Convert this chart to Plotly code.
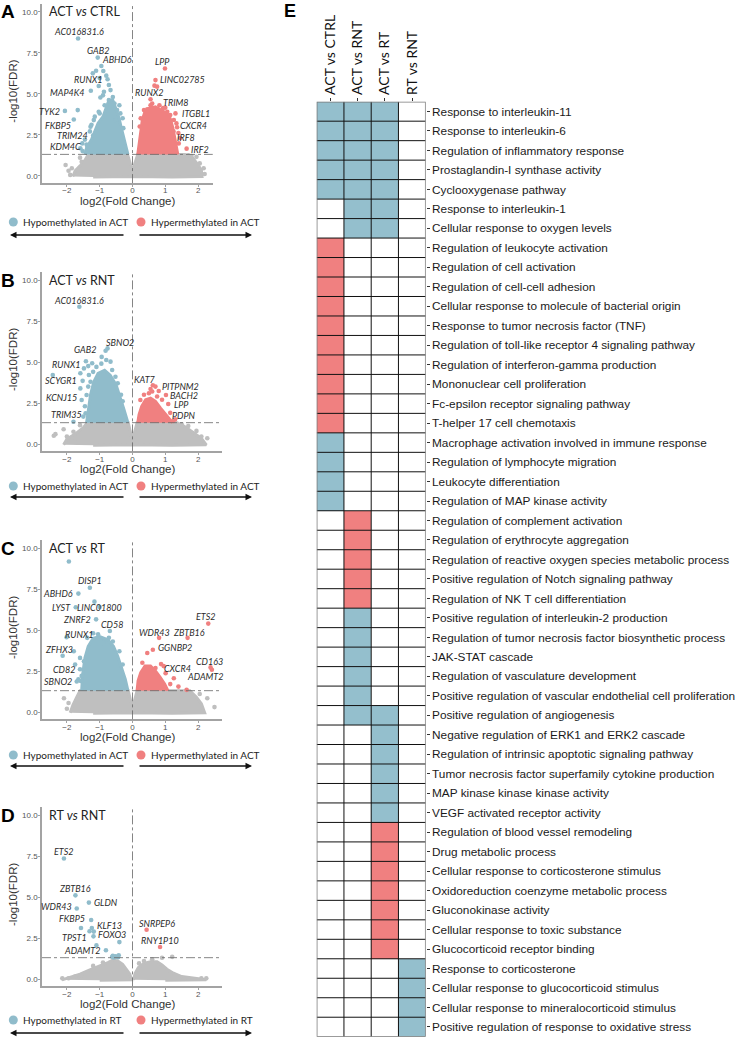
import plotly.graph_objects as go

W, H = 737, 1038
BLUE = '#90bccb'
RED = '#f08080'
GREY = '#bfbfbf'
CELL_BLUE = '#94bfcd'
CELL_RED = '#f08080'

# ================= DATA =================
# ---- Panel A : ACT vs CTRL ----
A_grey_poly_x = [-1.82, -1.75, -1.6, -1.45, -1.35, -0.15, -0.07, 0.0, 0.07, 0.16, 1.6, 1.85, 1.98, 2.1, 2.12, 1.2, 0.0, -1.2]
A_grey_poly_y = [-0.05, 0.3, 0.6, 0.95, 1.3, 1.3, 0.75, 0.25, 0.75, 1.3, 1.3, 1.05, 0.7, 0.35, -0.05, -0.08, -0.05, -0.08]
A_grey_x = [-2.04, 2.17, 2.05, -1.95, 1.95, -1.6, -1.9, 2.2, 1.8, -1.55, 1.7, -1.85]
A_grey_y = [0.65, 0.45, 0.75, 0.3, 1.15, 1.1, 0.05, 0.1, 1.2, 0.85, 1.25, 0.45]
A_blue_core_x = [-1.45, -1.4, -1.25, -1.15, -1.05, -0.9, -0.8, -0.72, -0.6, -0.5, -0.42, -0.35, -0.28, -0.2, -0.14]
A_blue_core_y = [1.3, 1.7, 2.2, 2.7, 3.2, 3.6, 4.2, 4.6, 4.6, 4.0, 3.6, 3.0, 2.4, 1.8, 1.3]
A_blue_x = [-1.11, -0.89, -1.21, -0.80, -1.0, -0.72, -1.03, -0.87, -0.67, -0.98, -0.72, -0.67, -1.67, -1.03, -1.28, -1.53, -1.59, -1.38, -1.18, -0.47, -0.52, -0.37, -1.45, -1.3, -1.52, -0.9, -0.6, -0.55, -1.15, -0.85, -1.4, -0.28, -1.25, -1.0, -0.4, -0.3]
A_blue_y = [6.40, 6.38, 6.24, 6.10, 5.95, 5.53, 5.47, 5.12, 5.22, 4.77, 4.61, 4.51, 4.00, 3.90, 2.99, 1.97, 1.67, 1.46, 3.39, 4.00, 3.39, 3.80, 2.2, 2.7, 1.5, 4.9, 4.8, 4.4, 3.6, 4.3, 1.9, 2.9, 3.1, 3.8, 4.3, 3.5]
A_red_core_x = [0.16, 0.2, 0.25, 0.3, 0.38, 0.5, 0.7, 0.9, 1.05, 1.15, 1.22, 1.28, 1.33, 1.38]
A_red_core_y = [1.3, 2.0, 2.8, 3.4, 3.9, 4.1, 4.2, 4.0, 3.8, 3.5, 3.0, 2.4, 1.8, 1.3]
A_red_x = [0.67, 0.75, 0.45, 0.70, 1.06, 1.26, 1.36, 1.41, 0.35, 1.25, 0.55, 1.3, 0.82, 1.15, 0.25, 1.45, 0.22, 1.4, 0.6, 1.0]
A_red_y = [5.49, 5.43, 4.05, 4.11, 3.90, 3.40, 2.95, 1.97, 4.0, 2.7, 4.3, 1.6, 4.3, 3.7, 3.5, 2.3, 3.0, 2.6, 4.4, 4.15]
A_genes = ['AC016831.6', 'GAB2', 'ABHD6', 'RUNX1', 'MAP4K4', 'TYK2', 'FKBP5', 'TRIM24', 'KDM4C',
           'LPP', 'LINC02785', 'RUNX2', 'TRIM8', 'ITGBL1', 'CXCR4', 'IRF8', 'IRF2']
A_gene_x = [-1.66, -1.06, -0.95, -0.76, -1.27, -2.06, -1.79, -1.2, -1.38, 0.99, 0.70, 0.55, 0.93, 1.31, 1.34, 1.21, 1.65]
A_gene_y = [8.37, 7.2, 6.69, 5.88, 5.18, 3.95, 3.43, 2.45, 1.83, 6.54, 5.83, 4.66, 4.13, 3.80, 3.19, 2.2, 1.65]
A_gene_dir = ['B', 'B', 'B', 'B', 'B', 'B', 'B', 'B', 'B', 'R', 'R', 'R', 'R', 'R', 'R', 'R', 'R']

# ---- Panel B : ACT vs RNT ----
B_grey_poly_x = [-2.1, -2.0, -1.75, -1.5, -1.38, -0.13, -0.06, 0.0, 0.06, 0.14, 1.36, 1.6, 1.85, 2.1, 2.25, 1.2, 0.0, -1.2]
B_grey_poly_y = [-0.05, 0.3, 0.6, 1.0, 1.3, 1.3, 0.7, 0.14, 0.7, 1.3, 1.3, 1.05, 0.7, 0.35, -0.05, -0.08, -0.05, -0.08]
B_grey_x = [-2.4, -2.35, -2.1, -1.75, -1.8, 2.28, 2.1, 1.95, 1.7, -2.0, -1.6, 1.5]
B_grey_y = [0.5, 0.6, 0.9, 0.35, 0.75, 0.35, 0.45, 0.8, 1.1, 0.45, 1.15, 1.2]
B_blue_core_x = [-1.4, -1.35, -1.28, -1.18, -1.05, -0.85, -0.68, -0.5, -0.38, -0.26, -0.14]
B_blue_core_y = [1.3, 2.0, 3.0, 3.8, 4.3, 4.5, 4.2, 3.6, 2.9, 2.1, 1.3]
B_blue_x = [-0.82, -0.80, -1.23, -0.67, -2.43, -1.59, -1.33, -1.48, -1.28, -1.40, -1.59, -1.43, -1.50, -0.62, -0.52, -1.35, -1.1, -0.95, -1.45, -1.2, -0.45, -0.35, -1.35, -0.3]
B_blue_y = [5.69, 5.12, 4.92, 5.02, 4.21, 4.31, 4.21, 4.61, 3.80, 2.99, 3.39, 1.87, 1.67, 4.51, 4.1, 4.75, 4.7, 4.9, 2.3, 4.4, 3.7, 3.0, 3.5, 2.6]
B_red_core_x = [0.16, 0.2, 0.28, 0.4, 0.55, 0.7, 0.85, 1.0, 1.15, 1.22]
B_red_core_y = [1.3, 1.8, 2.3, 2.7, 2.8, 2.6, 2.2, 1.85, 1.5, 1.3]
B_red_x = [0.50, 0.80, 0.24, 0.9, 1.15, 0.35, 0.6, 1.3, 0.75, 0.55]
B_red_y = [3.09, 3.23, 2.68, 2.7, 1.9, 3.0, 3.2, 1.5, 2.9, 3.35]
B_genes = ['AC016831.6', 'GAB2', 'SBNO2', 'RUNX1', 'SCYGR1', 'KCNJ15', 'TRIM35',
           'KAT7', 'PITPNM2', 'BACH2', 'LPP', 'PDPN']
B_gene_x = [-1.62, -0.94, -0.76, -1.42, -1.52, -1.55, -1.80, 0.62, 0.70, 1.02, 1.09, 1.24]
B_gene_y = [8.37, 5.31, 5.83, 5.05, 3.85, 2.68, 1.36, 3.58, 3.5, 2.99, 2.44, 1.40]
B_gene_dir = ['B', 'B', 'B', 'B', 'B', 'B', 'B', 'R', 'R', 'R', 'R', 'R']

# ---- Panel C : ACT vs RT ----
C_grey_poly_x = [-1.9, -1.82, -1.7, -1.6, -0.13, -0.06, 0.0, 0.06, 0.14, 1.75, 1.95, 2.1, 2.2, 1.2, 0.0, -1.2]
C_grey_poly_y = [-0.05, 0.4, 0.9, 1.3, 1.3, 0.7, 0.22, 0.7, 1.3, 1.3, 0.9, 0.5, -0.05, -0.08, -0.05, -0.08]
C_grey_x = [-2.09, 2.28, -1.95, 2.05, 2.5, -2.0]
C_grey_y = [0.84, 0.84, 0.55, 1.1, 0.3, 0.2]
C_blue_core_x = [-1.55, -1.52, -1.45, -1.35, -1.2, -1.0, -0.75, -0.58, -0.45, -0.32, -0.22, -0.14]
C_blue_core_y = [1.3, 2.3, 3.3, 4.0, 4.5, 4.6, 4.4, 4.0, 3.4, 2.6, 2.0, 1.3]
C_blue_x = [-1.94, -1.0, -2.01, -1.79, -1.59, -1.38, -1.48, -0.72, -0.89, -1.6, -1.55, -1.2, -0.6, -1.75, -1.65, -0.4, -0.3]
C_blue_y = [9.18, 6.4, 4.56, 3.70, 1.90, 4.52, 3.09, 4.52, 4.21, 3.3, 2.2, 4.8, 4.3, 2.9, 2.0, 3.7, 2.9]
C_red_core_x = [0.14, 0.17, 0.25, 0.38, 0.55, 0.7, 0.85, 0.98, 1.08]
C_red_core_y = [1.3, 1.9, 2.4, 2.8, 2.8, 2.5, 2.1, 1.7, 1.3]
C_red_x = [0.45, 0.70, 1.01, 1.65, 1.26, 0.95, 1.15, 0.3, 1.4]
C_red_y = [3.60, 2.68, 2.37, 1.35, 2.06, 2.8, 1.7, 3.0, 1.55]
C_genes = ['DISP1', 'ABHD6', 'LYST', 'LINC01800', 'ZNRF2', 'CD58', 'RUNX1', 'ZFHX3', 'CD82', 'SBNO2',
           'ETS2', 'ZBTB16', 'WDR43', 'GGNBP2', 'CXCR4', 'CD163', 'ADAMT2']
C_gene_x = [-1.30, -1.65, -1.73, -1.16, -1.11, -0.69, -1.05, -2.13, -1.60, -1.70, 2.31, 1.68, 0.81, 0.62, 0.87, 2.38, 2.42]
C_gene_y = [7.58, 7.22, 6.39, 6.73, 5.65, 4.94, 4.74, 3.43, 2.61, 1.86, 5.39, 4.52, 4.52, 3.8, 2.92, 2.72, 2.58]
C_gene_dir = ['B', 'B', 'B', 'B', 'B', 'B', 'B', 'B', 'B', 'B', 'R', 'R', 'R', 'R', 'R', 'R', 'R']

# ---- Panel D : RT vs RNT ----
D_grey_left_x = [-2.15, -1.9, -1.6, -1.3, -1.1, -0.9, -0.75, -0.6, -0.45, -0.3, -0.18, -0.08, -0.03, -1.0]
D_grey_left_y = [-0.05, 0.1, 0.3, 0.55, 0.7, 0.85, 1.0, 1.15, 1.1, 0.9, 0.6, 0.3, -0.05, -0.08]
D_grey_right_x = [0.03, 0.08, 0.18, 0.35, 0.55, 0.75, 0.9, 1.05, 1.25, 1.5, 1.9, 2.25, 1.0]
D_grey_right_y = [-0.05, 0.35, 0.7, 0.95, 1.05, 1.05, 0.85, 0.6, 0.35, 0.15, 0.05, -0.05, -0.08]
D_grey_x = [-2.14, -1.95, 2.1, 2.25, 0.9, 1.21, -1.55, -1.75, 0.35, 1.6, -0.9, 0.6, -1.2, 0.2]
D_grey_y = [0.04, 0.05, 0.04, 0.04, 1.3, 1.35, 0.2, 0.15, 1.1, 0.05, 1.0, 1.2, 0.8, 0.95]
D_blue_x = [-1.57, -1.31, -1.18, -1.10, -0.62, -0.52, -0.42, -0.57, -0.47, -0.6, -0.44]
D_blue_y = [3.11, 2.91, 2.89, 2.05, 1.35, 1.39, 1.45, 1.31, 1.35, 1.42, 1.33]
D_genes = ['ETS2', 'ZBTB16', 'GLDN', 'WDR43', 'FKBP5', 'KLF13', 'TPST1', 'FOXO3', 'ADAMT2', 'SNRPEP6', 'RNY1P10']
D_gene_x = [-2.09, -1.74, -1.33, -1.70, -1.26, -1.24, -1.19, -0.40, -0.81, 0.43, 0.84]
D_gene_y = [7.35, 5.10, 4.66, 4.30, 3.6, 3.11, 2.6, 2.25, 1.75, 3.0, 1.95]
D_gene_dir = ['B', 'B', 'B', 'B', 'B', 'B', 'B', 'B', 'B', 'R', 'R']

# ---- Panel E : enriched terms ----
comparisons = ['ACT vs CTRL', 'ACT vs RNT', 'ACT vs RT', 'RT vs RNT']
terms = [
    'Response to interleukin-11', 'Response to interleukin-6', 'Regulation of inflammatory response',
    'Prostaglandin-I synthase activity', 'Cyclooxygenase pathway',
    'Response to interleukin-1', 'Cellular response to oxygen levels',
    'Regulation of leukocyte activation', 'Regulation of cell activation', 'Regulation of cell-cell adhesion',
    'Cellular response to molecule of bacterial origin', 'Response to tumor necrosis factor (TNF)',
    'Regulation of toll-like receptor 4 signaling pathway', 'Regulation of interferon-gamma production',
    'Mononuclear cell proliferation', 'Fc-epsilon receptor signaling pathway', 'T-helper 17 cell chemotaxis',
    'Macrophage activation involved in immune response', 'Regulation of lymphocyte migration',
    'Leukocyte differentiation', 'Regulation of MAP kinase activity',
    'Regulation of complement activation', 'Regulation of erythrocyte aggregation',
    'Regulation of reactive oxygen species metabolic process', 'Positive regulation of Notch signaling pathway',
    'Regulation of NK T cell differentiation',
    'Positive regulation of interleukin-2 production', 'Regulation of tumor necrosis factor biosynthetic process',
    'JAK-STAT cascade', 'Regulation of vasculature development',
    'Positive regulation of vascular endothelial cell proliferation',
    'Positive regulation of angiogenesis',
    'Negative regulation of ERK1 and ERK2 cascade', 'Regulation of intrinsic apoptotic signaling pathway',
    'Tumor necrosis factor superfamily cytokine production', 'MAP kinase kinase kinase activity',
    'VEGF activated receptor activity',
    'Regulation of blood vessel remodeling', 'Drug metabolic process',
    'Cellular response to corticosterone stimulus', 'Oxidoreduction coenzyme metabolic process',
    'Gluconokinase activity', 'Cellular response to toxic substance', 'Glucocorticoid receptor binding',
    'Response to corticosterone', 'Cellular response to glucocorticoid stimulus',
    'Cellular response to mineralocorticoid stimulus', 'Positive regulation of response to oxidative stress',
]
# B = hypomethylated (blue), R = hypermethylated (red), - = not enriched
act_ctrl = "BBBBB" + "--" + "RRRRRRRRRR" + "BBBB" + "-----" + "-----" + "-" + "-----" + "-------" + "----"
act_rnt = "BBBBB" + "BB" + "----------" + "----" + "RRRRR" + "BBBBB" + "B" + "-----" + "-------" + "----"
act_rt = "BBBBB" + "BB" + "----------" + "----" + "-----" + "-----" + "B" + "BBBBB" + "RRRRRRR" + "----"
rt_rnt = "-----" + "--" + "----------" + "----" + "-----" + "-----" + "-" + "-----" + "-------" + "BBBB"

# ================= LAYOUT HELPERS =================
def pxx(p):
    return p / W


def pxy(p):
    return 1 - p / H


SX, SY, X0PX, LEFTPX = 32.8, 16.4, 132.5, 42
YR = [-0.45, 10.5]
AX_FONT = 'Liberation Sans, Arial, sans-serif'
CAL_FONT = 'Lato, Liberation Sans, sans-serif'

panels = [
    dict(letter='A', zero=175.7, xmax=2.45, title='ACT <i>vs</i> CTRL', grp='ACT', leg_y=222, arr_y=235,
         polys=[(A_grey_poly_x, A_grey_poly_y)], gx=A_grey_x, gy=A_grey_y,
         bcore=(A_blue_core_x, A_blue_core_y), bx=A_blue_x, by=A_blue_y,
         rcore=(A_red_core_x, A_red_core_y), rx=A_red_x, ry=A_red_y,
         genes=A_genes, gnx=A_gene_x, gny=A_gene_y, gdir=A_gene_dir),
    dict(letter='B', zero=444, xmax=2.73, title='ACT <i>vs</i> RNT', grp='ACT', leg_y=486, arr_y=497,
         polys=[(B_grey_poly_x, B_grey_poly_y)], gx=B_grey_x, gy=B_grey_y,
         bcore=(B_blue_core_x, B_blue_core_y), bx=B_blue_x, by=B_blue_y,
         rcore=(B_red_core_x, B_red_core_y), rx=B_red_x, ry=B_red_y,
         genes=B_genes, gnx=B_gene_x, gny=B_gene_y, gdir=B_gene_dir),
    dict(letter='C', zero=712, xmax=2.73, title='ACT <i>vs</i> RT', grp='ACT', leg_y=755, arr_y=766,
         polys=[(C_grey_poly_x, C_grey_poly_y)], gx=C_grey_x, gy=C_grey_y,
         bcore=(C_blue_core_x, C_blue_core_y), bx=C_blue_x, by=C_blue_y,
         rcore=(C_red_core_x, C_red_core_y), rx=C_red_x, ry=C_red_y,
         genes=C_genes, gnx=C_gene_x, gny=C_gene_y, gdir=C_gene_dir),
    dict(letter='D', zero=979, xmax=2.73, title='RT <i>vs</i> RNT', grp='RT', leg_y=1020, arr_y=1033,
         polys=[(D_grey_left_x, D_grey_left_y), (D_grey_right_x, D_grey_right_y)], gx=D_grey_x, gy=D_grey_y,
         bcore=None, bx=D_blue_x, by=D_blue_y,
         rcore=None, rx=[], ry=[],
         genes=D_genes, gnx=D_gene_x, gny=D_gene_y, gdir=D_gene_dir),
]

# label placement: (xanchor, xshift px, yshift px)
label_style = {
    'A': [('center', 1, 7), ('center', 0, 7), ('left', -1, 6), ('right', -4, 0), ('right', -4, -2),
          ('right', -3, -1), ('right', -1, -6.5), ('right', -3, 0), ('right', -4, -1),
          ('center', -2, 7), ('left', 3, 1), ('center', -2, 6.5), ('left', -2, 5.5), ('left', 4.5, 0),
          ('left', 2, -2.5), ('left', 2.5, 2.5), ('left', 2.5, -1)],
    'B': [('center', 0, 6.5), ('right', -4, 7), ('left', -4, 6), ('right', -4, -3), ('right', -3.5, 0),
          ('right', -3, 3), ('center', -7, 7.5),
          ('center', -8, 6), ('left', 4.5, 0), ('left', 2.5, -1), ('left', 3.5, -1), ('center', 10.5, 6)],
    'C': [('center', 0, 7), ('right', -3, 0), ('right', -3, 0), ('center', 5, -5.5), ('right', -3, 0),
          ('center', 2, 6), ('right', -3, 0), ('center', -4, 6.5), ('right', -3, 0), ('right', -3, 0),
          ('center', -2, 7), ('center', 1.5, 5.5), ('center', -4.5, 5.5), ('left', 3, 2.5), ('left', 0.5, -4.5),
          ('left', -17, 5.5), ('center', -7, -7)],
    'D': [('center', 0, 7), ('center', 0, 6.5), ('left', 3, 0), ('right', -3, 1.5), ('right', -4, 1),
          ('left', 3, 3), ('right', -4, -1), ('center', -7, 7.5), ('right', -4, 0),
          ('center', 10, 6.5), ('center', 0, 6.5)],
}

fig = go.Figure()
layout = dict(width=W, height=H, margin=dict(l=0, r=0, t=0, b=0), showlegend=False,
              paper_bgcolor='white', plot_bgcolor='white')
annotations = []
shapes = []

MK = 4.6
for i, p in enumerate(panels):
    n = '' if i == 0 else str(i + 1)
    xa, ya = 'x' + n, 'y' + n
    xmin = (LEFTPX - X0PX) / SX
    right_px = X0PX + p['xmax'] * SX
    bottom_px = p['zero'] - YR[0] * SY
    top_px = p['zero'] - YR[1] * SY
    axis_common = dict(showgrid=False, zeroline=False, showline=True, linecolor='#a3a3a3', linewidth=1.6,
                       ticks='outside', ticklen=2, tickcolor='#a3a3a3', tickwidth=1,
                       tickfont=dict(family=AX_FONT, size=8, color='#555555'), fixedrange=True)
    layout['xaxis' + n] = dict(axis_common, domain=[pxx(LEFTPX), pxx(right_px)], range=[xmin, p['xmax']],
                                anchor=ya, tickvals=[-2, -1, 0, 1, 2], ticklabelstandoff=-3)
    layout['yaxis' + n] = dict(axis_common, domain=[pxy(bottom_px), pxy(top_px)], range=YR,
                                anchor=xa, tickvals=[0, 2.5, 5, 7.5, 10], tickformat='.1f',
                                ticklabelstandoff=-1)

    for (px_, py_) in p['polys']:
        fig.add_trace(go.Scatter(x=px_, y=py_, xaxis=xa, yaxis=ya, mode='lines', fill='toself',
                                 fillcolor=GREY, line=dict(color=GREY, width=3), hoverinfo='skip'))
    fig.add_trace(go.Scatter(x=p['gx'], y=p['gy'], xaxis=xa, yaxis=ya, mode='markers',
                             marker=dict(color=GREY, size=MK), hoverinfo='skip'))
    if p['bcore']:
        fig.add_trace(go.Scatter(x=p['bcore'][0], y=p['bcore'][1], xaxis=xa, yaxis=ya, mode='lines',
                                 fill='toself', fillcolor=BLUE, line=dict(color=BLUE, width=3), hoverinfo='skip'))
    fig.add_trace(go.Scatter(x=p['bx'], y=p['by'], xaxis=xa, yaxis=ya, mode='markers',
                             marker=dict(color=BLUE, size=MK), hoverinfo='skip'))
    if p['rcore']:
        fig.add_trace(go.Scatter(x=p['rcore'][0], y=p['rcore'][1], xaxis=xa, yaxis=ya, mode='lines',
                                 fill='toself', fillcolor=RED, line=dict(color=RED, width=3), hoverinfo='skip'))
    if p['rx']:
        fig.add_trace(go.Scatter(x=p['rx'], y=p['ry'], xaxis=xa, yaxis=ya, mode='markers',
                                 marker=dict(color=RED, size=MK), hoverinfo='skip'))
    gcols = [BLUE if d == 'B' else RED for d in p['gdir']]
    fig.add_trace(go.Scatter(x=p['gnx'], y=p['gny'], xaxis=xa, yaxis=ya, mode='markers',
                             marker=dict(color=gcols, size=MK), hoverinfo='skip'))

    # threshold & zero lines
    shapes.append(dict(type='line', xref=xa, yref=ya, x0=xmin, x1=p['xmax'], y0=1.3, y1=1.3,
                       line=dict(color='#666666', width=0.8, dash='dashdot')))
    shapes.append(dict(type='line', xref=xa, yref=ya, x0=0, x1=0, y0=YR[0], y1=YR[1],
                       line=dict(color='#666666', width=0.8, dash='dashdot')))

    # gene labels
    for g, gx_, gy_, st in zip(p['genes'], p['gnx'], p['gny'], label_style[p['letter']]):
        annotations.append(dict(x=gx_, y=gy_, xref=xa, yref=ya, text='<i>' + g + '</i>', showarrow=False,
                                xanchor=st[0], yanchor='middle', xshift=st[1], yshift=st[2],
                                font=dict(family=CAL_FONT, size=9, color='#2b2b2b')))

    # panel letter & title
    title_px = p['zero'] - 10 * SY
    annotations.append(dict(x=pxx(8), y=pxy(title_px), xref='paper', yref='paper', text='<b>' + p['letter'] + '</b>',
                            showarrow=False, xanchor='center', yanchor='middle',
                            font=dict(family=AX_FONT, size=19, color='black')))
    annotations.append(dict(x=pxx(47), y=pxy(title_px), xref='paper', yref='paper', text=p['title'],
                            showarrow=False, xanchor='left', yanchor='middle',
                            font=dict(family=CAL_FONT, size=12.5, color='#222222')))
    # axis titles
    annotations.append(dict(x=pxx(127.5), y=pxy(bottom_px + 18), xref='paper', yref='paper',
                            text='log2(Fold Change)', showarrow=False, xanchor='center', yanchor='middle',
                            font=dict(family=AX_FONT, size=11.5, color='#333333')))
    annotations.append(dict(x=pxx(13), y=pxy(p['zero'] - 84), xref='paper', yref='paper',
                            text='-log10(FDR)', showarrow=False, textangle=-90, xanchor='center', yanchor='middle',
                            font=dict(family=AX_FONT, size=11.5, color='#333333')))
    # legend
    ly = p['leg_y']
    for cx, col in ((13.3, BLUE), (141, RED)):
        shapes.append(dict(type='circle', xref='paper', yref='paper', x0=pxx(cx - 4.5), x1=pxx(cx + 4.5),
                           y0=pxy(ly + 4.5), y1=pxy(ly - 4.5), fillcolor=col, line=dict(width=0)))
    annotations.append(dict(x=pxx(21), y=pxy(ly), xref='paper', yref='paper',
                            text='Hypomethylated in ' + p['grp'], showarrow=False, xanchor='left', yanchor='middle',
                            font=dict(family=CAL_FONT, size=10, color='#222222')))
    annotations.append(dict(x=pxx(148.5), y=pxy(ly), xref='paper', yref='paper',
                            text='Hypermethylated in ' + p['grp'], showarrow=False, xanchor='left', yanchor='middle',
                            font=dict(family=CAL_FONT, size=10, color='#222222')))
    ay = p['arr_y']
    annotations.append(dict(x=pxx(10), y=pxy(ay), xref='paper', yref='paper', text='', showarrow=True,
                            ax=115, ay=0, arrowhead=2, arrowsize=1, arrowwidth=1.3, arrowcolor='#111111'))
    annotations.append(dict(x=pxx(252), y=pxy(ay), xref='paper', yref='paper', text='', showarrow=True,
                            ax=-114, ay=0, arrowhead=2, arrowsize=1, arrowwidth=1.3, arrowcolor='#111111'))

# ================= PANEL E =================
cols = [act_ctrl, act_rnt, act_rt, rt_rnt]
code_val = {'-': 0, 'B': 1, 'R': 2}
z = [[code_val[c[r]] for c in cols] for r in range(len(terms))]
nrow, ncol = len(terms), len(comparisons)

fig.add_trace(go.Heatmap(z=z, x=list(range(ncol)), y=list(range(nrow)), xaxis='x5', yaxis='y5',
                         colorscale=[[0, '#ffffff'], [0.5, CELL_BLUE], [1, CELL_RED]], zmin=0, zmax=2,
                         showscale=False, hoverinfo='skip'))

GL, GR, GT, GB = 316.7, 425.7, 101.7, 1036.7
layout['xaxis5'] = dict(domain=[pxx(GL), pxx(GR)], range=[-0.5, ncol - 0.5], anchor='y5', side='top',
                        tickvals=list(range(ncol)), ticktext=comparisons, tickangle=-90,
                        ticks='outside', ticklen=3, tickcolor='#333333', showgrid=False, zeroline=False,
                        showline=False, tickfont=dict(family=CAL_FONT, size=14, color='#111111'), fixedrange=True)
layout['yaxis5'] = dict(domain=[pxy(GB), pxy(GT)], range=[nrow - 0.5, -0.5], anchor='x5', side='right',
                        tickvals=list(range(nrow)), ticktext=terms,
                        ticks='outside', ticklen=3, tickcolor='#333333', showgrid=False, zeroline=False,
                        showline=False, tickfont=dict(family=AX_FONT, size=11.8, color='#1a1a1a'), fixedrange=True)

for k in range(1, ncol):
    shapes.append(dict(type='line', xref='x5', yref='y5', x0=k - 0.5, x1=k - 0.5, y0=-0.5, y1=nrow - 0.5,
                       line=dict(color='#111111', width=1)))
for r in range(1, nrow):
    shapes.append(dict(type='line', xref='x5', yref='y5', x0=-0.5, x1=ncol - 0.5, y0=r - 0.5, y1=r - 0.5,
                       line=dict(color='#111111', width=1)))
shapes.append(dict(type='rect', xref='x5', yref='y5', x0=-0.5, x1=ncol - 0.5, y0=-0.5, y1=nrow - 0.5,
                   line=dict(color='#7a7a7a', width=1.5)))

annotations.append(dict(x=pxx(289.5), y=pxy(11), xref='paper', yref='paper', text='<b>E</b>',
                        showarrow=False, xanchor='center', yanchor='middle',
                        font=dict(family=AX_FONT, size=18, color='black')))

layout['annotations'] = annotations
layout['shapes'] = shapes
fig.update_layout(**layout)

fig.write_html("out.html", config={'displayModeBar': False},
               post_script="document.body.style.margin='0';document.body.style.overflow='hidden';")
